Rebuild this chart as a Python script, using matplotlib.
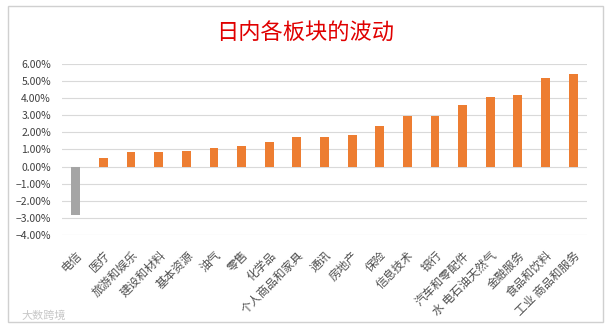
import matplotlib.pyplot as plt
from matplotlib.patches import Rectangle
from matplotlib.ticker import PercentFormatter

plt.rcParams['font.family'] = ['Noto Sans CJK SC', 'DejaVu Sans']

sectors = ["电信", "医疗", "旅游和娱乐", "建设和材料", "基本资源", "油气", "零售",
           "化学品", "个人商品和家具", "通讯", "房地产", "保险", "信息技术", "银行",
           "汽车和零配件", "水 电石油天然气", "金融服务", "食品和饮料", "工业 商品和服务"]
changes = [-2.82, 0.53, 0.86, 0.86, 0.94, 1.11, 1.23, 1.46, 1.75, 1.74, 1.85,
           2.38, 2.96, 2.96, 3.63, 4.07, 4.21, 5.19, 5.42]
yticks = [-4, -3, -2, -1, 0, 1, 2, 3, 4, 5, 6]

colors = ["#A5A5A5" if v < 0 else "#ED7D31" for v in changes]

fig = plt.figure(figsize=(6.1, 3.29), dpi=100)
fig.patches.append(Rectangle((8 / 610, 7 / 329), 595 / 610, 316 / 329,
                             transform=fig.transFigure, fill=False,
                             edgecolor="#d0d0d0", linewidth=1))
ax = fig.add_axes([0.1016, 0.2857, 0.8606, 0.5198])

x = range(len(sectors))
ax.bar(x, changes, width=0.32, color=colors, zorder=3)

ax.set_ylim(-4, 6)
ax.set_yticks(yticks)
ax.yaxis.set_major_formatter(PercentFormatter(decimals=2))
ax.set_xlim(-0.5, len(sectors) - 0.5)
ax.grid(axis="y", color="#d9d9d9", linewidth=0.8, zorder=0)
for s in ax.spines.values():
    s.set_visible(False)
ax.tick_params(axis="both", length=0, colors="#404040", labelsize=7.5)
ax.tick_params(axis="y", pad=8)

ax.set_xticks(list(x))
ax.set_xticklabels(sectors, rotation=45, ha="right", va="top",
                   rotation_mode="anchor", fontsize=8.5, color="#505050")
ax.tick_params(axis="x", pad=10)

fig.text(0.5, 0.90, "日内各板块的波动", ha="center", va="center",
         fontsize=16, color="#E00000")
fig.text(0.035, 0.04, "大数跨境", ha="left", va="center",
         fontsize=8, color="#c8c8c8")

fig.savefig("out.png", dpi=100)
